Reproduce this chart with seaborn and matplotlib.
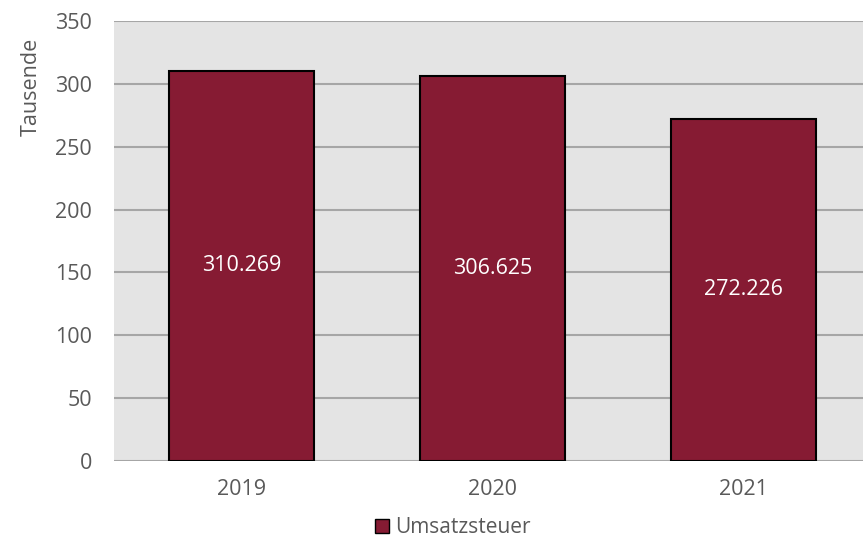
import matplotlib
matplotlib.use("Agg")
import matplotlib.pyplot as plt
import seaborn as sns
import pandas as pd
from matplotlib.patches import Patch

# Umsatzsteuer, in Tausend
years = ["2019", "2020", "2021"]
values = [310.269, 306.625, 272.226]
value_labels = ["310.269", "306.625", "272.226"]
series_name = "Umsatzsteuer"
y_ticks = [0, 50, 100, 150, 200, 250, 300, 350]

bar_color = "#861B33"
text_color = "#595959"

sns.set_theme(style="white")
plt.rcParams["font.family"] = ["Open Sans", "DejaVu Sans"]

df = pd.DataFrame({"Jahr": years, "Wert": values})

fig = plt.figure(figsize=(8.63, 5.42), dpi=100)
ax = fig.add_axes([0.1321, 0.1494, 0.8679, 0.8119])
ax.set_facecolor("#E4E4E4")

sns.barplot(data=df, x="Jahr", y="Wert", color=bar_color, saturation=1,
            width=0.578, edgecolor="black", linewidth=1.5, ax=ax, zorder=3)

for i, (v, lab) in enumerate(zip(values, value_labels)):
    ax.text(i, v / 2, lab, ha="center", va="center", color="white",
            fontsize=15.5, zorder=4)

ax.set_ylim(0, 350)
ax.set_xlim(-0.508, 2.476)
ax.set_yticks(y_ticks)
ax.yaxis.grid(True, color="#A6A6A6", linewidth=1.5, zorder=1)
ax.set_axisbelow(True)
for s in ax.spines.values():
    s.set_visible(False)

ax.tick_params(axis="both", length=0, labelsize=15.5, colors=text_color)
ax.tick_params(axis="y", pad=16)
ax.tick_params(axis="x", pad=13)
ax.set_xlabel("")
ax.set_ylabel("Tausende", fontsize=15.5, color=text_color)
ax.yaxis.set_label_coords(-0.097, 0.85)

handle = Patch(facecolor=bar_color, edgecolor="black", linewidth=1)
fig.legend([handle], [series_name], loc="center", bbox_to_anchor=(0.525, 0.027),
           frameon=False, fontsize=15, handlelength=0.65, handleheight=0.65,
           handletextpad=0.3, labelcolor=text_color)

fig.savefig("out.png", dpi=100)
